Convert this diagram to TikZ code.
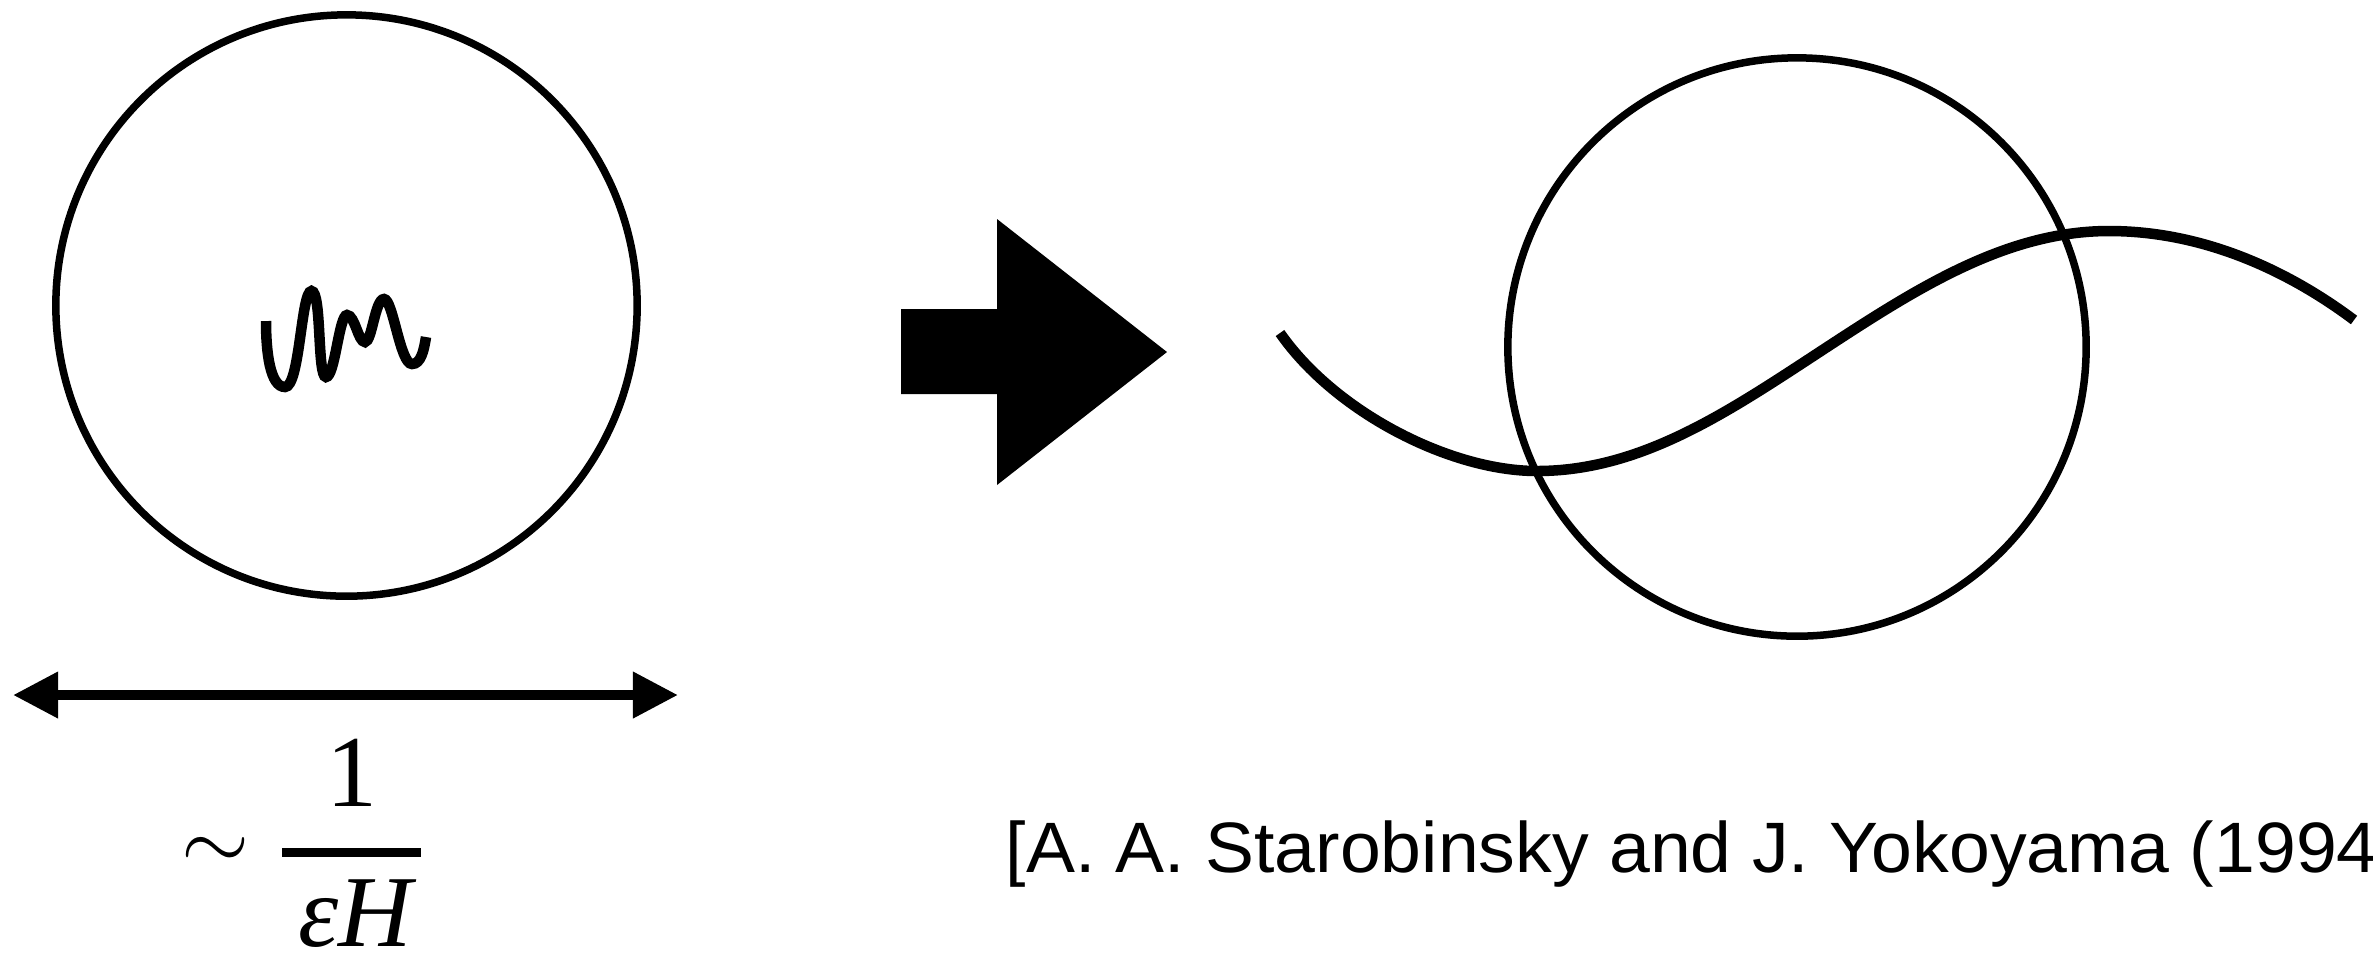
\documentclass[tikz,border=0pt]{standalone}
\usepackage{fontspec}
\setmainfont{Liberation Serif}
\newfontfamily\refsans{Liberation Sans}
\usetikzlibrary{arrows.meta}
\tikzset{
  ring/.style={circle, draw, line width=0.075cm, inner sep=0pt, minimum size=5.81cm},
  wave/.style={line width=0.105cm, line cap=butt},
  squig/.style={line width=0.105cm},
  dimline/.style={line width=0.1cm, {Triangle[length=0.45cm,width=0.44cm]}-{Triangle[length=0.45cm,width=0.44cm]}},
  bigfont/.style={font=\fontsize{29}{34}\selectfont, inner sep=0pt},
}
\begin{document}
\begin{tikzpicture}[x=0.01cm,y=-0.01cm]
\useasboundingbox (0,0) rectangle (2373,956);
% left circle with squiggle
\node[ring] (lc) at (346.5,305.5) {};
\draw[squig] (266,321) .. controls (266,352) and (270,387) .. (285,387)
  .. controls (300,387) and (301,291) .. (311.5,291)
  .. controls (322,291) and (317,377) .. (326,377)
  .. controls (335,377) and (339,315) .. (347,315)
  .. controls (355,315) and (358,342) .. (365,342)
  .. controls (372,342) and (375,299) .. (384,299)
  .. controls (393,299) and (400,364) .. (412,364)
  .. controls (421,364) and (424,350) .. (426,337);
% dimension arrow
\coordinate (dl) at (13,695);
\coordinate (dr) at (678,695);
\draw[dimline] (dl) -- (dr);
% fraction
\node[bigfont, font=\fontsize{38}{44}\selectfont] (sim) at (216,853) {$\sim$};
\node[bigfont, anchor=base] (num) at (351.5,806.7) {1};
\coordinate (barl) at (282,852);
\coordinate (barr) at (420.5,852);
\draw[line width=0.09cm] (barl) -- (barr);
\node[bigfont, anchor=base, text depth=0pt] (den) at (355,946) {\itshape εH};
% block arrow
\fill (901,309) -- (997,309) -- (997,219) -- (1167,352) -- (997,485) -- (997,394) -- (901,394) -- cycle;
% right circle and curve
\node[ring, minimum size=5.78cm] (rc) at (1797,347) {};
\coordinate (cs) at (1280,333);
\coordinate (ce) at (2354,320);
\draw[wave] (cs) .. controls (1335,412) and (1450,471) .. (1537,471)
  .. controls (1640.7,471) and (1727.1,412.5) .. (1821,351)
  .. controls (1914.9,289.5) and (2005.2,231) .. (2109,231)
  .. controls (2205,231) and (2290,272) .. (ce);
% reference
\node[anchor=base west, inner sep=0pt, font=\refsans\fontsize{20.3}{24}\selectfont] (ref) at (1005,872.7) {\scalebox{1.028}[1]{[A. A. Starobinsky and J. Yokoyama (1994}};
\end{tikzpicture}
\end{document}
